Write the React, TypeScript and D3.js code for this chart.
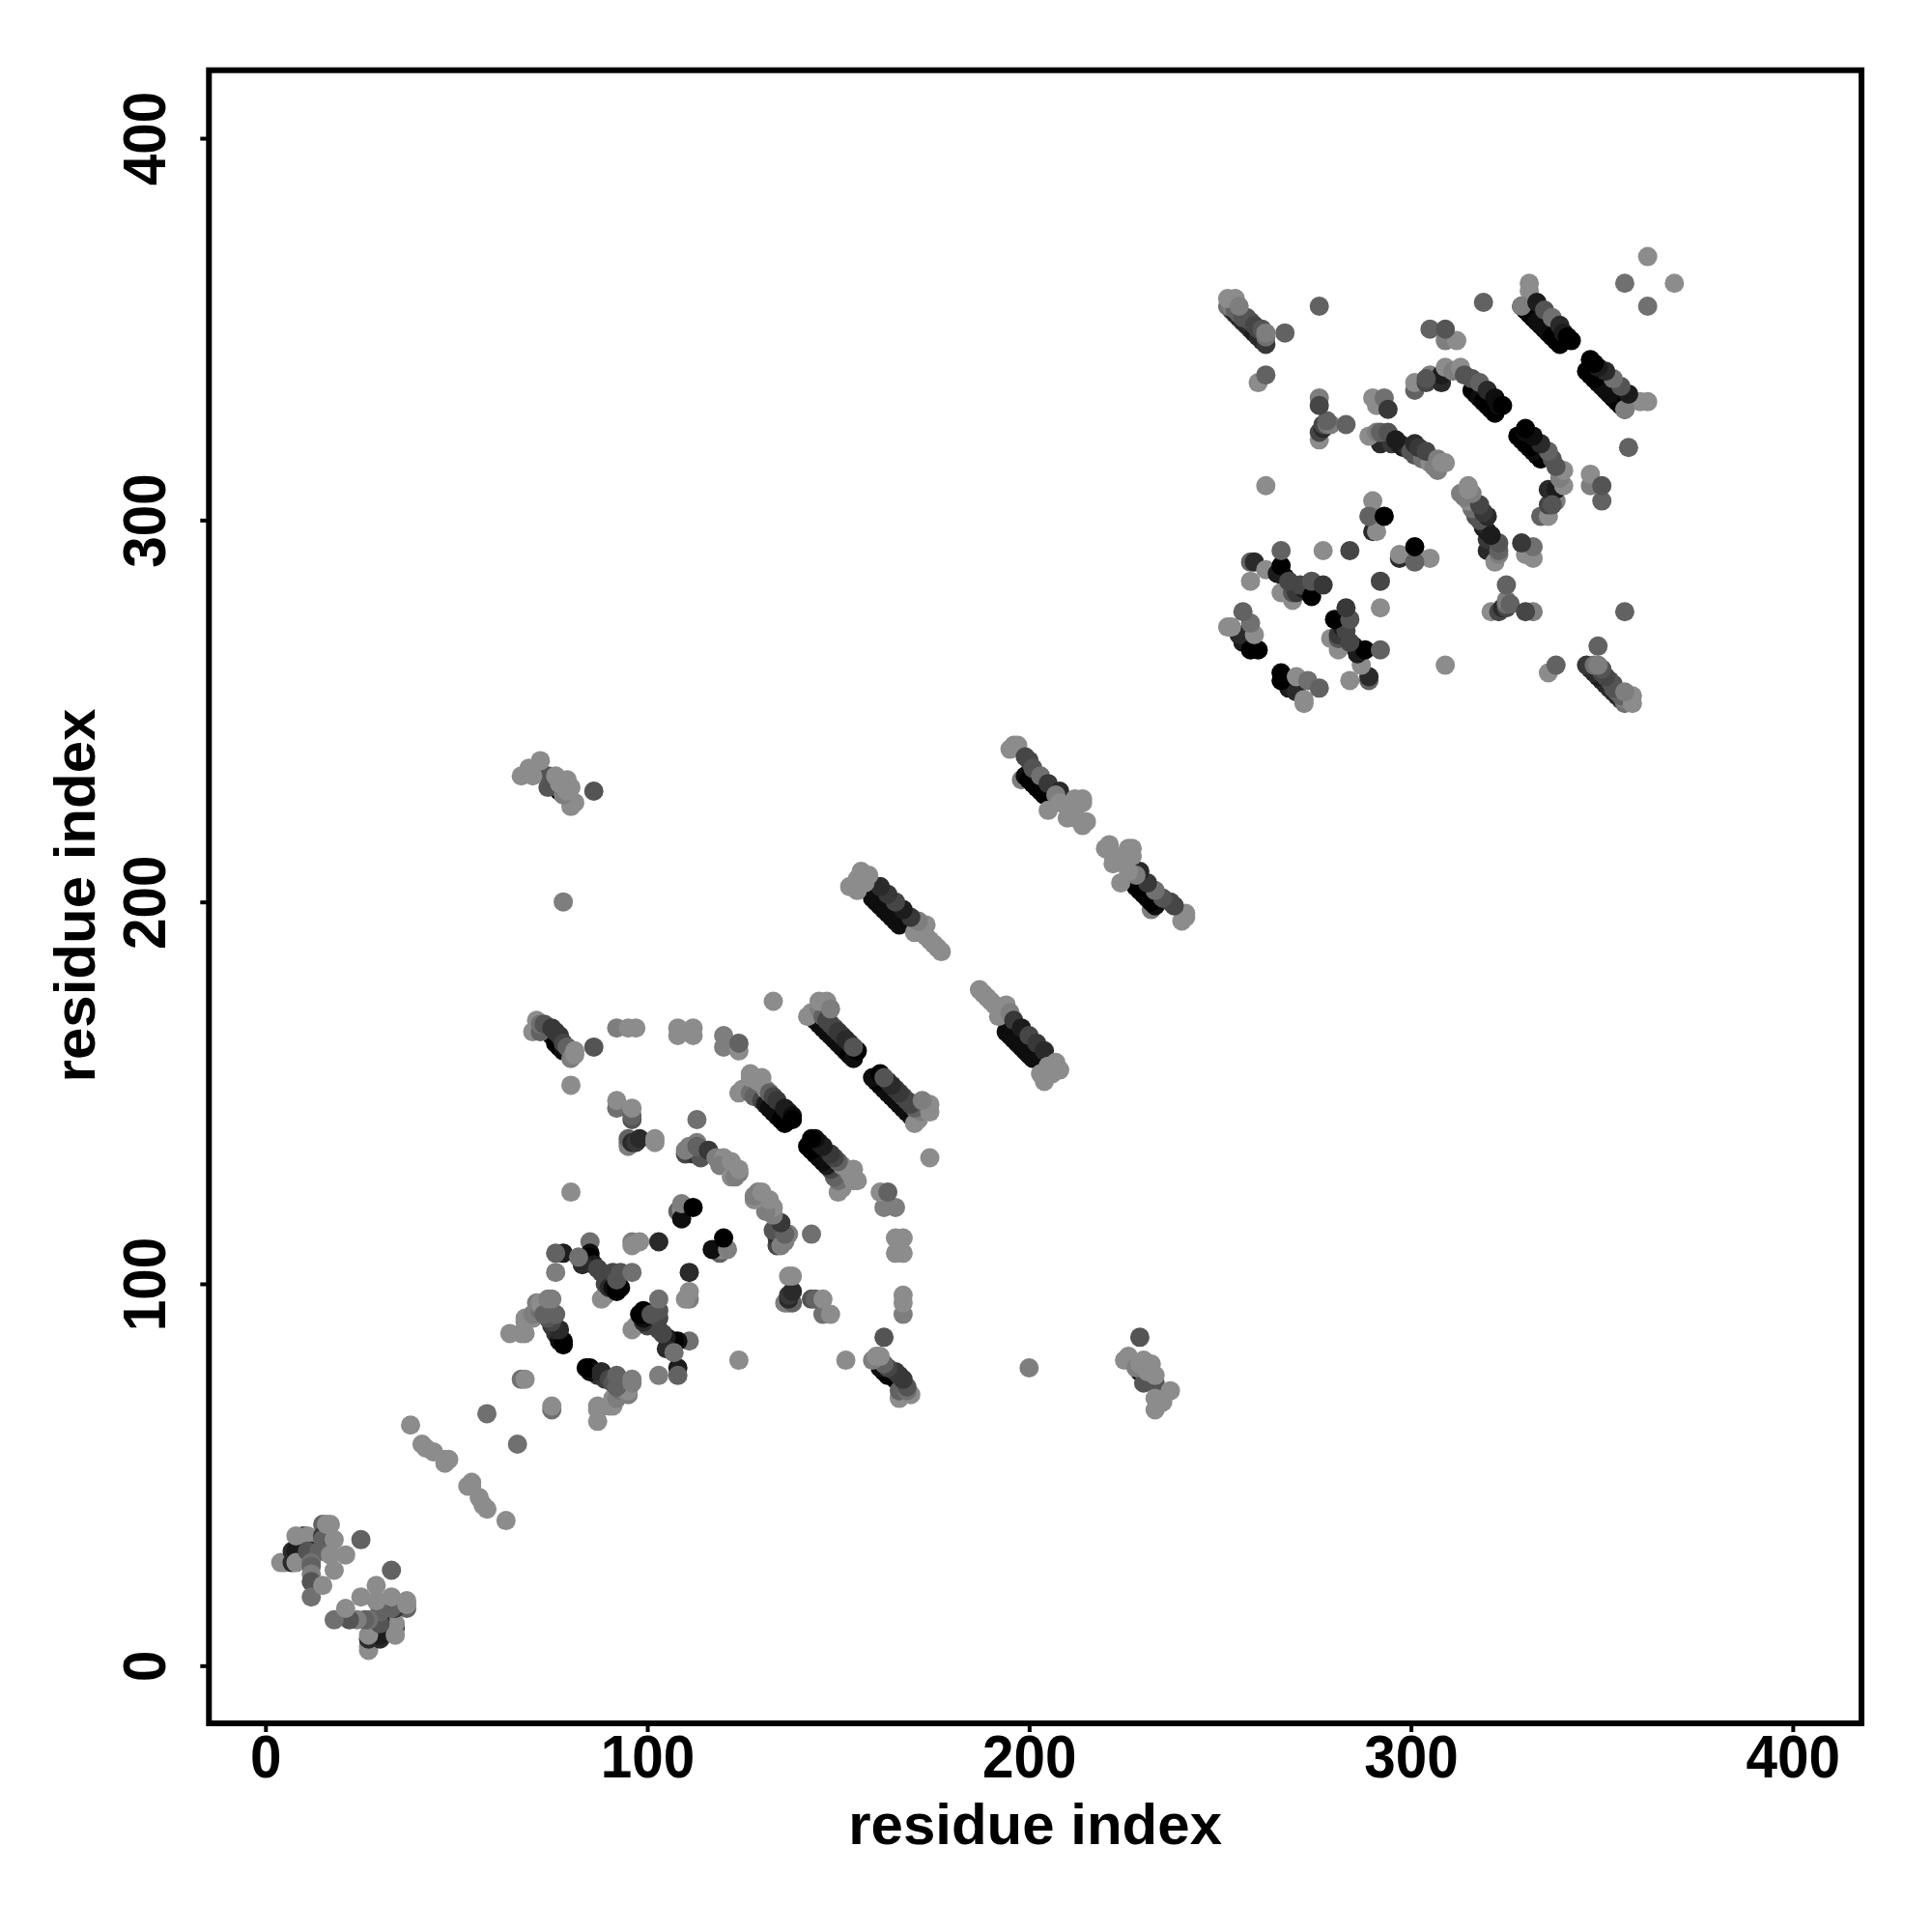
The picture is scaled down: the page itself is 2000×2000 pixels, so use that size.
// React
import { useEffect, useRef } from 'react';

// Installed Packages
import * as d3 from 'd3';

// Strength 0 is the lightest grey, 10 is black. Each contact is drawn on both sides of the diagonal.
type Contact = [number, number, number];

const nTerminalCluster: Contact[] = [
    [4, 27, 0], [5, 27, 0], [7, 27, 7], [7, 30, 7], [8, 30, 8], [8, 27, 0], [10, 34, 7], [8, 34, 0], [11, 34, 0],
    [12, 30, 8], [11, 30, 4], [15, 37, 3], [15, 34, 6], [15, 33, 3], [15, 30, 4], [14, 30, 3], [12, 27, 2],
    [12, 26, 3], [12, 24, 1], [12, 22, 4], [12, 18, 2], [15, 21, 0], [18, 25, 0], [17, 29, 0],
    [21, 29, 0], [18, 33, 0], [16, 37, 0], [17, 37, 0], [25, 33, 3],
];
const linkerChain: Contact[] = [
    [38, 63, 0], [41, 58, 0], [42, 57, 0], [44, 56, 0], [47, 54, 0], [48, 54, 0], [47, 53, 0],
    [58, 66, 2], [67, 75, 2], [68, 75, 0],
];
const firstHairpin: Contact[] = [
    [64, 87, 0], [67, 87, 0], [68, 87, 0], [68, 90, 0], [68, 91, 0], [70, 91, 0], [70, 92, 1], [72, 93, 2],
    [71, 95, 1], [72, 95, 0], [76, 87, 6], [77, 86, 8], [77, 85, 9], [78, 85, 10], [78, 84, 10], [76, 88, 7],
    [75, 89, 6], [77, 88, 7], [75, 90, 5], [74, 91, 4], [73, 92, 3], [76, 92, 3], [74, 96, 1], [75, 96, 1],
];
const secondHairpin: Contact[] = [
    [78, 108, 8], [76, 108, 3], [76, 103, 1], [85, 111, 2], [84, 106, 9], [85, 108, 9], [85, 107, 10],
    [86, 105, 8], [83, 105, 7], [82, 107, 2], [88, 96, 0], [89, 97, 0], [87, 104, 5], [88, 103, 5], [89, 100, 5],
    [90, 99, 7], [91, 99, 9], [92, 99, 10], [93, 99, 10], [92, 98, 10], [91, 103, 5], [93, 103, 4], [92, 101, 4],
    [96, 103, 2], [103, 111, 7], [96, 111, 1], [98, 111, 0], [96, 110, 0],
    [108, 119, 3], [109, 119, 1], [109, 120, 0], [109, 117, 9], [109, 121, 1], [112, 120, 10],
];
const upperLoops: Contact[] = [
    [92, 146, 2], [92, 148, 0], [96, 143, 4], [96, 144, 3], [96, 146, 0], [95, 136, 1], [95, 137, 1], [95, 138, 3],
    [96, 137, 7], [97, 137, 6], [98, 138, 7], [102, 137, 0], [102, 138, 0],
    [113, 143, 2], [80, 124, 0], [80, 152, 0], [133, 174, 0], [86, 162, 4],
    [92, 167, 1], [95, 167, 0], [97, 167, 0], [108, 165, 0], [108, 167, 0], [112, 165, 0], [112, 167, 0],
    [120, 162, 1], [120, 165, 1], [124, 161, 0], [124, 163, 3],
];
const strandJ: Contact[] = [
    [110, 134, 5], [111, 135, 8], [112, 134, 6], [113, 134, 7], [114, 133, 4], [110, 135, 1],
    [111, 136, 1], [113, 137, 1], [113, 136, 3], [116, 135, 6], [118, 133, 1], [120, 133, 0], [119, 131, 1],
    [122, 132, 0], [122, 128, 0], [123, 128, 1], [124, 129, 1], [124, 130, 0],
];
const strandH: Contact[] = [
    [124, 150, 0], [125, 151, 0], [127, 150, 2], [128, 149, 3], [130, 148, 5], [131, 147, 8], [132, 146, 9],
    [133, 145, 9], [134, 144, 9], [135, 143, 10], [136, 142, 10], [127, 154, 0], [127, 155, 0],
    [128, 154, 0], [129, 153, 0], [130, 154, 0], [131, 151, 0], [132, 150, 3], [133, 149, 5], [134, 148, 6],
    [136, 146, 8], [137, 145, 8], [138, 144, 9], [138, 143, 10],
];
const strandF: Contact[] = [
    [144, 169, 7], [145, 168, 9], [146, 167, 9], [147, 166, 9], [148, 165, 9], [149, 164, 9], [150, 163, 9],
    [151, 162, 9], [152, 161, 9], [153, 160, 10], [154, 159, 9], [142, 170, 0], [143, 171, 0], [145, 172, 1],
    [146, 170, 3], [147, 169, 5], [148, 168, 5], [149, 167, 5], [150, 166, 6], [151, 165, 6], [152, 164, 7],
    [153, 163, 7], [155, 161, 10], [154, 162, 4], [145, 174, 0], [147, 174, 0], [148, 172, 1],
];
const strandA: Contact[] = [
    [73, 167, 9], [74, 166, 10], [75, 165, 9], [76, 163, 10], [77, 162, 10], [78, 161, 9], [70, 166, 0],
    [72, 166, 3], [71, 169, 0], [72, 168, 2], [73, 168, 4], [75, 167, 6], [76, 166, 6], [77, 165, 6],
    [78, 163, 5], [79, 162, 3], [80, 159, 1], [81, 160, 0], [81, 161, 0],
];
const strandC: Contact[] = [
    [166, 194, 9], [165, 195, 9], [164, 196, 9], [163, 197, 9], [162, 198, 9], [161, 199, 9], [160, 200, 9],
    [159, 201, 9], [170, 192, 0], [171, 193, 0], [172, 192, 0], [173, 191, 0], [174, 190, 0], [175, 189, 0],
    [176, 188, 0], [177, 187, 0], [173, 194, 0], [171, 195, 1], [169, 196, 6], [167, 198, 8], [165, 200, 5],
    [163, 202, 6], [161, 204, 7], [153, 204, 0], [155, 203, 0], [155, 206, 0], [157, 205, 0], [158, 207, 0],
    [156, 208, 0],
];
const strandD: Contact[] = [
    [198, 232, 1], [199, 233, 9], [200, 232, 10], [201, 231, 10], [202, 230, 10], [203, 229, 10], [204, 228, 10],
    [205, 224, 0], [196, 241, 0], [197, 241, 0], [195, 240, 0], [199, 238, 5], [200, 237, 5], [201, 235, 4],
    [203, 233, 2], [205, 231, 6], [208, 229, 7], [207, 228, 1], [210, 222, 0], [214, 220, 0], [215, 221, 0],
    [212, 227, 0], [214, 227, 0], [214, 226, 0], [212, 224, 0], [210, 225, 0], [208, 226, 0], [212, 222, 0],
];
const strandNearD: Contact[] = [
    [77, 229, 10], [74, 230, 4], [74, 233, 4], [67, 233, 0], [70, 233, 0], [69, 235, 0], [72, 237, 0],
    [76, 233, 0], [79, 232, 0], [80, 230, 0], [81, 226, 0], [80, 225, 0], [78, 228, 1], [79, 229, 0], [77, 231, 0],
    [86, 229, 4], [78, 200, 1],
];
const strandA3: Contact[] = [
    [253, 355, 6], [254, 354, 7], [255, 353, 7], [256, 352, 7], [257, 351, 7], [258, 350, 7], [259, 349, 8],
    [260, 348, 7], [261, 347, 7], [262, 346, 6], [252, 356, 2], [253, 356, 1], [254, 355, 3], [255, 354, 3],
    [256, 353, 4], [257, 353, 4], [258, 352, 4], [259, 351, 5], [260, 350, 5], [261, 350, 4], [262, 348, 2],
    [262, 349, 1], [252, 358, 0], [254, 358, 0], [255, 356, 1], [267, 349, 3], [276, 356, 3], [260, 336, 0],
    [262, 338, 3], [262, 309, 0],
];
const crossContacts: Contact[] = [
    [276, 321, 0], [276, 323, 5], [277, 324, 7], [277, 325, 5], [278, 325, 2], [279, 325, 1], [283, 325, 3],
    [278, 326, 3], [276, 332, 1], [276, 330, 5], [290, 332, 0], [291, 330, 0], [293, 332, 2], [294, 329, 6],
    [309, 347, 1], [312, 347, 0], [305, 350, 3], [309, 350, 4], [319, 357, 3], [356, 362, 2], [362, 369, 0],
    [290, 297, 7], [291, 297, 0], [290, 305, 0], [289, 301, 3], [293, 301, 10], [277, 292, 0], [284, 292, 5],
];
const strandB3: Contact[] = [
    [292, 320, 7], [293, 321, 7], [295, 320, 6], [297, 320, 8], [298, 319, 8], [299, 319, 7], [300, 318, 4],
    [301, 317, 4], [303, 316, 2], [305, 315, 0], [306, 314, 1], [307, 313, 1], [289, 322, 0], [291, 323, 1],
    [292, 323, 3], [294, 323, 4], [296, 321, 8], [301, 320, 7], [302, 319, 6], [304, 318, 5], [307, 316, 1],
    [308, 315, 0], [309, 315, 0],
];
const strandC3: Contact[] = [
    [316, 334, 10], [317, 333, 10], [318, 332, 9], [319, 331, 10], [320, 330, 10], [321, 329, 10], [322, 328, 10],
    [301, 334, 3], [301, 336, 0], [304, 336, 5], [305, 338, 1], [308, 336, 7], [308, 338, 8], [304, 337, 4],
    [309, 340, 0], [311, 339, 1], [313, 340, 0], [314, 338, 4], [316, 337, 4], [318, 336, 3], [320, 334, 7],
    [322, 332, 9], [323, 330, 9], [324, 330, 10],
];
const strandD3: Contact[] = [
    [329, 356, 9], [330, 355, 10], [331, 354, 10], [332, 353, 10], [333, 352, 9], [334, 351, 9], [335, 350, 9],
    [336, 349, 9], [337, 348, 10], [338, 347, 10], [339, 346, 10], [331, 362, 0], [331, 360, 0], [329, 356, 1],
    [333, 357, 8], [335, 355, 4], [337, 353, 2], [339, 351, 7], [340, 349, 8], [341, 348, 10], [342, 347, 10],
];
const lowerStrands: Contact[] = [
    [256, 268, 8], [255, 270, 7], [258, 266, 10], [260, 266, 10], [252, 272, 0], [253, 272, 0], [259, 270, 0],
    [258, 273, 2], [256, 276, 3], [258, 284, 0], [258, 289, 3], [259, 289, 7], [262, 287, 0], [265, 286, 8],
    [267, 285, 8], [266, 281, 0], [269, 279, 0], [269, 281, 4], [270, 281, 6], [272, 282, 8], [271, 283, 5],
    [266, 288, 10], [268, 284, 5], [274, 280, 10], [274, 284, 4], [277, 283, 6], [266, 292, 3],
];

const contactGroups = [
    nTerminalCluster, linkerChain, firstHairpin, secondHairpin, upperLoops, strandJ, strandH, strandF, strandA,
    strandC, strandD, strandNearD, strandA3, crossContacts, strandB3, strandC3, strandD3, lowerStrands,
];
const tickValues = [0, 100, 200, 300, 400];
const axisLabel = 'residue index';

export default function App() {
    const ref = useRef<SVGSVGElement>(null);

    useEffect(() => {
        const svg = d3.select(ref.current);
        svg.selectAll('*').remove();

        const fontFamily = '"Liberation Sans", Arial, sans-serif';
        const x = d3.scaleLinear().domain([-14.8, 418]).range([216.3, 1927]);
        const y = d3.scaleLinear().domain([-15.1, 417.8]).range([1784, 72.7]);
        const grey = d3.scaleLinear<number>().domain([0, 10]).range([140, 0]);

        // both sides of the diagonal, group by group
        const points = contactGroups.flat().flatMap(([i, j, strength]) => [
            { px: i, py: j, strength },
            { px: j, py: i, strength },
        ]);

        svg.append('g')
            .selectAll('circle')
            .data(points)
            .join('circle')
            .attr('cx', d => x(d.px))
            .attr('cy', d => y(d.py))
            .attr('r', 10)
            .attr('fill', d => {
                const g = Math.round(grey(d.strength));
                return `rgb(${g},${g},${g})`;
            });

        // X axis
        const xAxis = svg.append('g')
            .attr('transform', 'translate(0,1784)')
            .call(d3.axisBottom(x).tickValues(tickValues).tickSize(9).tickFormat(d3.format('d')));
        xAxis.select('.domain').remove();
        xAxis.selectAll('line').attr('stroke', '#000').attr('stroke-width', 4);
        xAxis.selectAll<SVGTextElement, number>('text')
            .attr('y', 56)
            .attr('dy', 0)
            .attr('fill', '#000')
            .attr('textLength', d => String(d).length * 32.5)
            .attr('lengthAdjust', 'spacingAndGlyphs')
            .style('font-family', fontFamily)
            .style('font-weight', 'bold')
            .style('font-size', '63px');

        // Y axis
        const yAxis = svg.append('g')
            .attr('transform', 'translate(216.3,0)')
            .call(d3.axisLeft(y).tickValues(tickValues).tickSize(9).tickFormat(d3.format('d')));
        yAxis.select('.domain').remove();
        yAxis.selectAll('line').attr('stroke', '#000').attr('stroke-width', 4);
        yAxis.selectAll<SVGTextElement, number>('text')
            .attr('x', 0)
            .attr('y', 0)
            .attr('dy', 0)
            .attr('text-anchor', 'middle')
            .attr('transform', 'translate(-45.6,0) rotate(-90)')
            .attr('fill', '#000')
            .attr('textLength', d => String(d).length * 32.5)
            .attr('lengthAdjust', 'spacingAndGlyphs')
            .style('font-family', fontFamily)
            .style('font-weight', 'bold')
            .style('font-size', '63px');

        // Plot frame
        svg.append('rect')
            .attr('x', 216.3)
            .attr('y', 72.7)
            .attr('width', 1927 - 216.3)
            .attr('height', 1784 - 72.7)
            .attr('fill', 'none')
            .attr('stroke', '#000')
            .attr('stroke-width', 6);

        // Axis titles
        svg.append('text')
            .attr('x', 1071.6)
            .attr('y', 1909)
            .attr('text-anchor', 'middle')
            .style('font-family', fontFamily)
            .style('font-weight', 'bold')
            .style('font-size', '60px')
            .text(axisLabel);
        svg.append('text')
            .attr('transform', 'translate(98.3,927) rotate(-90)')
            .attr('text-anchor', 'middle')
            .style('font-family', fontFamily)
            .style('font-weight', 'bold')
            .style('font-size', '60px')
            .text(axisLabel);
    }, []);

    return <svg ref={ref} width={2000} height={2000} style={{ position: 'absolute', left: 0, top: 0, background: '#fff' }} />;
}
